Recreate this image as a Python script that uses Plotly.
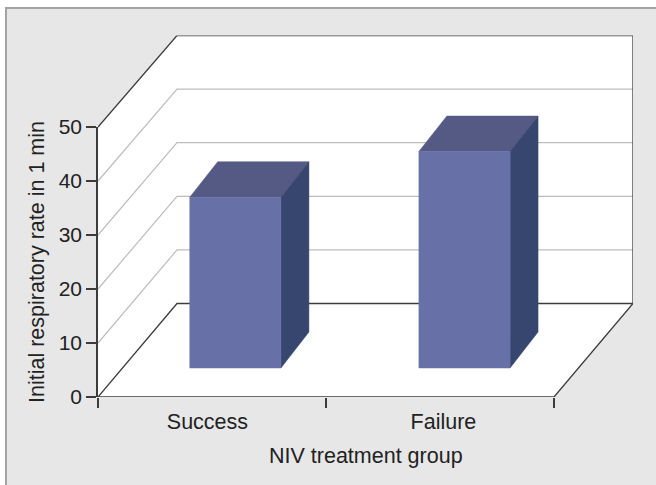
import plotly.graph_objects as go

categories = ["Success", "Failure"]
respiratory_rate = [31.7, 40.2]
y_ticks = [0, 10, 20, 30, 40, 50]
y_title = "Initial respiratory rate in 1 min"
x_title = "NIV treatment group"

W, H = 656, 485
LEFT, FRONT_RIGHT, BACK_RIGHT = 98, 554, 633
BOTTOM, TOP_50, TOP_BACK, FLOOR_BACK = 397, 127, 35.5, 303.5
px_per_cat = (FRONT_RIGHT - LEFT) / len(categories)
px_per_val = (BOTTOM - TOP_50) / y_ticks[-1]
DEPTH_X = (BACK_RIGHT - FRONT_RIGHT) / px_per_cat
DEPTH_Y = (BOTTOM - FLOOR_BACK) / px_per_val
BACK_SCALE = (FLOOR_BACK - TOP_BACK) / (BOTTOM - TOP_50)
BAR_W = 0.4
BAR_SHIFT = [-0.005, 0.0]
Z0, Z1_X, Z1_Y = 0.31, 0.664, 0.695
FRONT, TOPC, SIDE = "#6870a8", "#545a84", "#37466f"
DARK, GRID = "#3c3c3c", "#bdbdbd"
FAMILY = "Liberation Sans, Arial, sans-serif"
TICK_FONT = dict(family=FAMILY, size=21, color="#222222")
XT_FONT = dict(family=FAMILY, size=21.5, color="#222222")
YT_FONT = dict(family=FAMILY, size=21.5, color="#222222")


def proj(x, v, z, zy=None):
    zy = z if zy is None else zy
    return x + z * DEPTH_X, v * (1 - zy * (1 - BACK_SCALE)) + zy * DEPTH_Y


def poly(points, color, name):
    xs, ys = zip(*[proj(*p) for p in points])
    return go.Scatter(x=list(xs) + [xs[0]], y=list(ys) + [ys[0]], mode="lines", fill="toself",
                      fillcolor=color, line=dict(color=color, width=0.5), hoverinfo="skip",
                      showlegend=False, name=name, xaxis="x", yaxis="y")


def path(points_list, color, width, name):
    xs, ys = [], []
    for pts in points_list:
        for p in pts:
            a, b = proj(*p)
            xs.append(a)
            ys.append(b)
        xs.append(None)
        ys.append(None)
    return go.Scatter(x=xs, y=ys, mode="lines", line=dict(color=color, width=width), hoverinfo="skip",
                      showlegend=False, name=name, cliponaxis=False, xaxis="x", yaxis="y")


n = len(categories)
vmax = y_ticks[-1]
fig = go.Figure()
fig.add_trace(poly([(0, 0, 0), (n, 0, 0), (n, 0, 1), (n, vmax, 1), (0, vmax, 1), (0, vmax, 0)], "white", "walls"))
fig.add_trace(path([[(0, t, 0), (0, t, 1), (n, t, 1)] for t in y_ticks[1:-1]], GRID, 1.2, "grid"))
fig.add_trace(path([
    [(0, 0, 0), (0, 0, 1), (n, 0, 1)],
    [(0, 0, 0), (n, 0, 0), (n, 0, 1), (n, vmax, 1), (0, vmax, 1), (0, vmax, 0)],
], DARK, 1.3, "frame"))

for i, (cat, val) in enumerate(zip(categories, respiratory_rate)):
    x0 = i + 0.5 + BAR_SHIFT[i] - BAR_W / 2
    x1 = x0 + BAR_W
    back = (Z1_X, Z1_Y)
    fig.add_trace(poly([(x0, val, Z0), (x1, val, Z0), (x1, val, *back), (x0, val, *back)], TOPC, cat + " top"))
    fig.add_trace(poly([(x1, 0, Z0), (x1, 0, *back), (x1, val, *back), (x1, val, Z0)], SIDE, cat + " side"))
    fig.add_trace(poly([(x0, 0, Z0), (x1, 0, Z0), (x1, val, Z0), (x0, val, Z0)], FRONT, cat + " front"))

# Subplot that carries the visible axes (front plane of the scene)
fig.add_trace(go.Scatter(x=[0, n], y=[0, vmax], mode="markers", marker=dict(opacity=0), hoverinfo="skip",
                         showlegend=False, xaxis="x2", yaxis="y2"))

fig.update_layout(
    template="none",
    width=W, height=H, margin=dict(l=0, r=0, t=0, b=0, pad=0), autosize=False,
    paper_bgcolor="white", plot_bgcolor="rgba(0,0,0,0)", showlegend=False, font=TICK_FONT,
    xaxis=dict(domain=[LEFT / W, BACK_RIGHT / W], range=[0, n + DEPTH_X], visible=False, anchor="y", automargin=False),
    yaxis=dict(domain=[(H - BOTTOM) / H, (H - TOP_BACK) / H], range=[0, vmax * BACK_SCALE + DEPTH_Y], visible=False,
               anchor="x", automargin=False),
    xaxis2=dict(domain=[LEFT / W, FRONT_RIGHT / W], range=[0, n], anchor="y2", showgrid=False, zeroline=False,
                tickmode="array", tickvals=[0.48, 1.515], ticktext=categories, ticks="", tickfont=XT_FONT,
                showline=False, automargin=False, ticklabelstandoff=9,
                minor=dict(tickmode="array", tickvals=list(range(n + 1)), ticks="outside", ticklen=10,
                           tickwidth=1.5, tickcolor=DARK, showgrid=False)),
    yaxis2=dict(domain=[(H - BOTTOM) / H, (H - TOP_50) / H], range=[0, vmax], anchor="x2", showgrid=False,
                zeroline=False, tickmode="array", tickvals=y_ticks, ticks="outside", ticklen=10, tickwidth=1.5,
                tickcolor=DARK, showline=True, linecolor=DARK, linewidth=1.5, tickfont=TICK_FONT, automargin=False,
                title=dict(text=y_title, font=YT_FONT, standoff=8)),
    shapes=[dict(type="rect", xref="paper", yref="paper", x0=6 / W, x1=1.02, y0=-0.02, y1=(H - 8) / H,
                 fillcolor="#e7e7e7", line=dict(color="#a3a3a3", width=2), layer="below")],
    annotations=[dict(text=x_title, xref="paper", yref="paper", x=365.5 / W, y=1 - 456 / H, showarrow=False,
                      xanchor="center", yanchor="middle", font=XT_FONT)],
)

fig.write_html("out.html", config=dict(displayModeBar=False),
               post_script="document.body.style.margin='0';document.documentElement.style.overflow='hidden';")
